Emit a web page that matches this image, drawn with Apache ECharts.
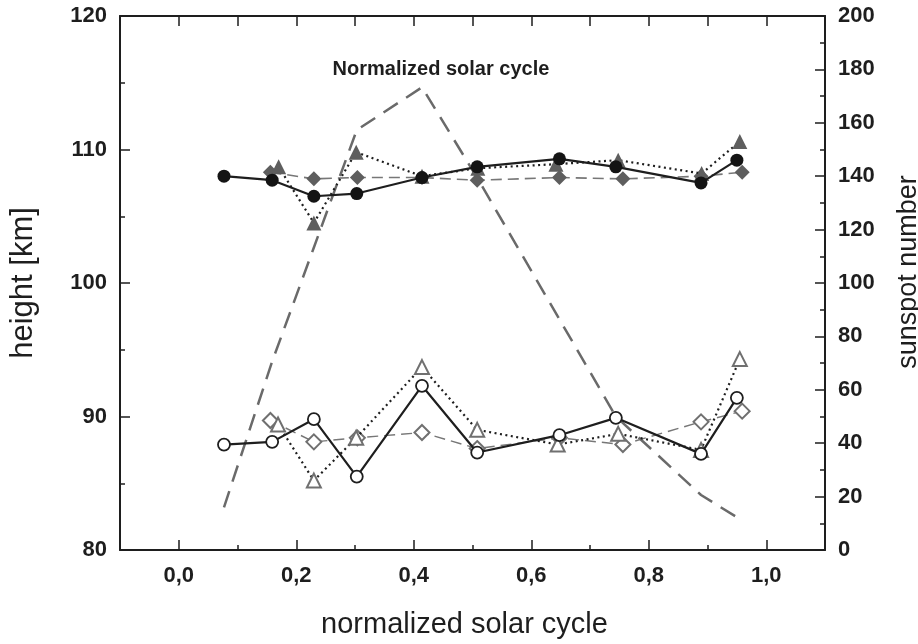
<!DOCTYPE html>
<html>
<head>
<meta charset="utf-8">
<script src="https://cdn.jsdelivr.net/npm/echarts/dist/echarts.min.js"></script>
<style>
  html, body { margin: 0; padding: 0; background: #fff; }
  #main { width: 918px; height: 644px; }
</style>
</head>
<body>
<div id="main"></div>
<script>
// normalized solar cycle positions and heights
var fullCircleX = [0.077, 0.159, 0.230, 0.303, 0.414, 0.508, 0.648, 0.744, 0.889, 0.950];
var fullCircleY = [108.0, 107.7, 106.5, 106.7, 107.9, 108.7, 109.3, 108.7, 107.5, 109.2];

var fullTriangleX = [0.170, 0.230, 0.302, 0.414, 0.509, 0.642, 0.748, 0.890, 0.955];
var fullTriangleY = [108.7, 104.5, 109.8, 108.0, 108.6, 108.9, 109.2, 108.2, 110.6];

var fullDiamondX = [0.156, 0.230, 0.304, 0.414, 0.508, 0.648, 0.756, 0.889, 0.959];
var fullDiamondY = [108.3, 107.8, 107.9, 107.9, 107.7, 107.9, 107.8, 108.0, 108.3];

var openCircleX = [0.077, 0.159, 0.230, 0.303, 0.414, 0.508, 0.648, 0.744, 0.889, 0.950];
var openCircleY = [87.9, 88.1, 89.8, 85.5, 92.3, 87.3, 88.6, 89.9, 87.2, 91.4];

var openTriangleX = [0.169, 0.230, 0.302, 0.414, 0.508, 0.645, 0.748, 0.889, 0.955];
var openTriangleY = [89.4, 85.2, 88.4, 93.7, 89.0, 87.9, 88.7, 87.5, 94.3];

var openDiamondX = [0.156, 0.230, 0.304, 0.414, 0.508, 0.648, 0.756, 0.889, 0.959];
var openDiamondY = [89.7, 88.1, 88.4, 88.8, 87.6, 88.4, 87.9, 89.6, 90.4];

var sunspotX = [0.077, 0.159, 0.230, 0.303, 0.414, 0.508, 0.648, 0.744, 0.889, 0.952];
var sunspotY = [16, 70.6, 113.3, 157.3, 173.3, 139.4, 86.4, 50, 20.6, 12];

var majorX = [0, 0.2, 0.4, 0.6, 0.8, 1.0];
var minorX = [0.1, 0.3, 0.5, 0.7, 0.9];

function pairs(xs, ys) {
    return xs.map(function (x, i) { return [x, ys[i]]; });
}

var font = 'Liberation Sans, Arial, Helvetica, sans-serif';
var ink = '#1e1e1e';
var grey = '#5e5e5e';

var chart = echarts.init(document.getElementById('main'));

var xBase = {
    type: 'value', min: -0.1, max: 1.1, interval: 0.1,
    splitLine: { show: false }
};

var option = {
    animation: false,
    grid: { left: 120, right: 93, top: 16, bottom: 94, outerBoundsMode: 'none', containLabel: false },
    xAxis: [
        Object.assign({}, xBase, {
            position: 'bottom',
            axisLine: { onZero: false, lineStyle: { color: ink, width: 2 } },
            axisTick: { inside: true, length: 10, customValues: majorX, lineStyle: { color: ink, width: 1.5 } },
            axisLabel: {
                customValues: majorX, margin: 15, color: ink, fontSize: 22, fontWeight: 'bold', fontFamily: font,
                formatter: function (v) { return v.toFixed(1).replace('.', ','); }
            },
            name: 'normalized solar cycle', nameLocation: 'middle', nameGap: 60,
            nameTextStyle: { fontSize: 29, color: ink, fontFamily: font, padding: [0, 16, 0, 0] }
        }),
        Object.assign({}, xBase, {
            position: 'bottom',
            axisLine: { show: false, onZero: false },
            axisTick: { inside: true, length: 5, customValues: minorX, lineStyle: { color: ink, width: 1.5 } },
            axisLabel: { show: false }
        }),
        Object.assign({}, xBase, {
            position: 'top',
            axisLine: { onZero: false, lineStyle: { color: ink, width: 2 } },
            axisTick: { inside: true, length: 10, lineStyle: { color: ink, width: 1.5 } },
            axisLabel: { show: false }
        })
    ],
    yAxis: [
        {
            type: 'value', min: 80, max: 120, interval: 10, position: 'left',
            axisLine: { show: true, onZero: false, lineStyle: { color: ink, width: 2 } },
            axisTick: { show: true, inside: true, length: 10, lineStyle: { color: ink, width: 1.5 } },
            minorTick: { show: true, splitNumber: 2, length: 5, lineStyle: { color: ink, width: 1.5 } },
            splitLine: { show: false },
            axisLabel: { margin: 13, color: ink, fontSize: 22, fontWeight: 'bold', fontFamily: font },
            name: 'height [km]', nameLocation: 'middle', nameGap: 81,
            nameTextStyle: { fontSize: 31, color: ink, fontFamily: font }
        },
        {
            type: 'value', min: 0, max: 200, interval: 20, position: 'right',
            axisLine: { show: true, onZero: false, lineStyle: { color: ink, width: 2 } },
            axisTick: { show: true, inside: true, length: 10, lineStyle: { color: ink, width: 1.5 } },
            minorTick: { show: true, splitNumber: 2, length: 5, lineStyle: { color: ink, width: 1.5 } },
            splitLine: { show: false },
            axisLabel: { margin: 13, color: ink, fontSize: 22, fontWeight: 'bold', fontFamily: font },
            name: 'sunspot number', nameLocation: 'middle', nameGap: 70,
            nameTextStyle: { fontSize: 27, color: ink, fontFamily: font, padding: [0, 0, 0, 22] }
        }
    ],
    graphic: [
        {
            type: 'text', x: 441, y: 69,
            style: {
                text: 'Normalized solar cycle', fill: ink,
                font: 'bold 20px ' + font, textAlign: 'center', textVerticalAlign: 'middle'
            }
        }
    ],
    series: [
        {
            name: 'sunspot', type: 'line', yAxisIndex: 1, symbol: 'none',
            lineStyle: { color: '#6a6a6a', width: 2.5, type: [17, 10] },
            data: pairs(sunspotX, sunspotY), z: 1
        },
        {
            name: 'diamond full', type: 'line', symbol: 'diamond', symbolSize: 15,
            itemStyle: { color: grey },
            lineStyle: { color: '#777', width: 1.6, type: [11, 6] },
            data: pairs(fullDiamondX, fullDiamondY), z: 2
        },
        {
            name: 'diamond open', type: 'line', symbol: 'diamond', symbolSize: 15,
            itemStyle: { color: '#fff', borderColor: '#707070', borderWidth: 2 },
            lineStyle: { color: '#777', width: 1.4, type: [11, 6] },
            data: pairs(openDiamondX, openDiamondY), z: 2
        },
        {
            name: 'triangle full', type: 'line', symbol: 'triangle', symbolSize: 15,
            itemStyle: { color: grey },
            lineStyle: { color: ink, width: 2.2, type: [2, 3.5] },
            data: pairs(fullTriangleX, fullTriangleY), z: 3
        },
        {
            name: 'triangle open', type: 'line', symbol: 'triangle', symbolSize: 14,
            itemStyle: { color: '#fff', borderColor: '#707070', borderWidth: 2 },
            lineStyle: { color: ink, width: 2.2, type: [2, 3.5] },
            data: pairs(openTriangleX, openTriangleY), z: 3
        },
        {
            name: 'circle full', type: 'line', symbol: 'circle', symbolSize: 13,
            itemStyle: { color: '#141414' },
            lineStyle: { color: ink, width: 2.2 },
            data: pairs(fullCircleX, fullCircleY), z: 4
        },
        {
            name: 'circle open', type: 'line', symbol: 'circle', symbolSize: 12,
            itemStyle: { color: '#fff', borderColor: ink, borderWidth: 1.8 },
            lineStyle: { color: ink, width: 2.2 },
            data: pairs(openCircleX, openCircleY), z: 4
        }
    ]
};

chart.setOption(option);
</script>
</body>
</html>
